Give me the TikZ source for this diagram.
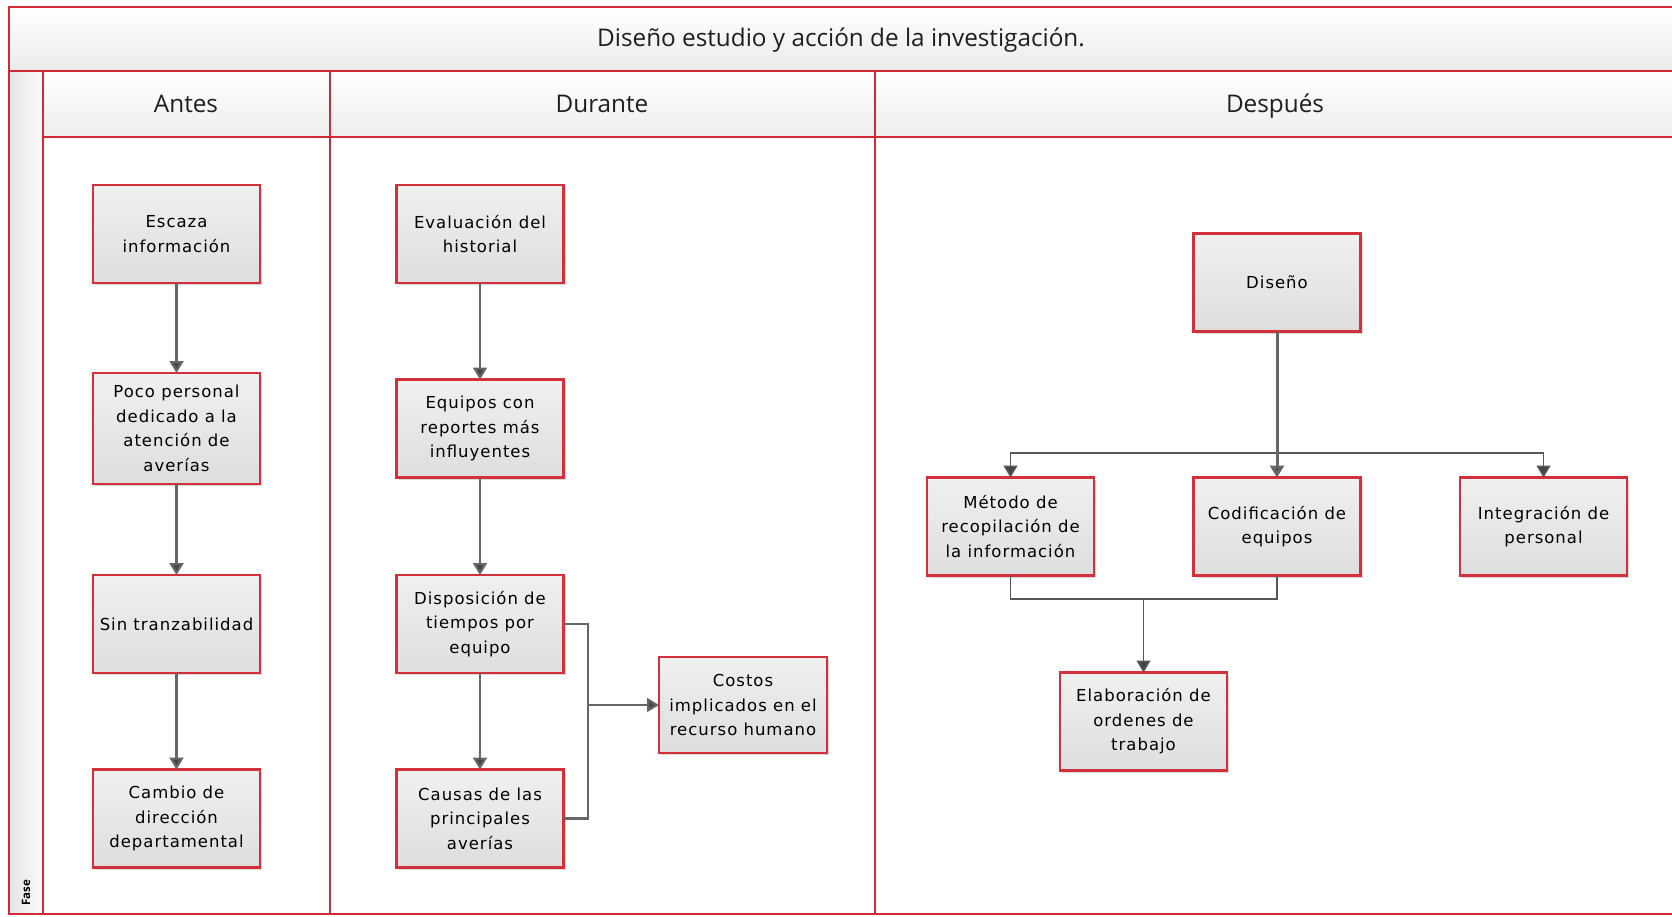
\documentclass[tikz,border=0pt]{standalone}
\usepackage{fontspec}
\setmainfont{Open Sans}
\newfontfamily\boxfont[LetterSpace=6]{DejaVu Sans}
\usetikzlibrary{arrows.meta,shadows}

\definecolor{framered}{HTML}{D22A34}
\definecolor{boxred}{HTML}{D3303B}
\definecolor{linegray}{HTML}{666666}
\definecolor{tipgray}{HTML}{454545}

\tikzset{
  frameline/.style={draw=framered, line width=1.8pt},
  stepbox/.style={draw=boxred, line width=2.1pt, top color=white!94!black,
    bottom color=white!87!black, minimum width=167pt, minimum height=98pt,
    inner sep=0pt, outer sep=0pt, align=center,
    font=\boxfont\fontsize{16.5}{24.5}\selectfont,
    drop shadow={shadow xshift=2pt, shadow yshift=-2pt, opacity=0.15, fill=black}},
  conn/.style={draw=linegray, line width=2.2pt},
  arr/.style={conn, -{Triangle[width=14pt,length=12pt,fill=tipgray]}},
  thinconn/.style={draw=linegray!85!black, line width=1.6pt},
  thinarr/.style={thinconn, -{Triangle[width=14pt,length=12pt,fill=tipgray]}},
  headtext/.style={anchor=base, font=\fontsize{24.3}{28}\selectfont, text=black!88}
}

\begin{document}
\begin{tikzpicture}[x=1pt, y=-1pt]
\useasboundingbox (0,0) rectangle (1672,916);

% title band, phase header row and the vertical label strip
\shade[top color=white, bottom color=white!92!black] (9,7) rectangle (1674,71);
\shade[top color=white, bottom color=white!93!black] (43,71) rectangle (1674,137);
\shade[left color=white!90!black, right color=white!98!black] (9,71) rectangle (43,914);

% frame and lane grid
\draw[frameline] (9,7) rectangle (1674,914);
\draw[frameline] (9,71) -- (1674,71);
\draw[frameline] (43,137) -- (1674,137);
\draw[frameline] (43,71) -- (43,914);
\draw[frameline] (330,71) -- (330,914);
\draw[frameline] (875,71) -- (875,914);

% headings
\node[headtext] (title) at (841,46) {Diseño estudio y acción de la investigación.};
\node[headtext] (hantes) at (186,112) {Antes};
\node[headtext] (hdurante) at (602,112) {Durante};
\node[headtext] (hdespues) at (1275,112) {Después};
\node[rotate=90, font=\bfseries\fontsize{11.5}{11.5}\selectfont] (fase) at (26,893) {Fase};

% Antes
\node[stepbox] (escaza) at (176.5,234) {Escaza\\información};
\node[stepbox, minimum height=111pt] (poco) at (176.5,428.5) {Poco personal\\dedicado a la\\atención de\\averías};
\node[stepbox] (sin) at (176.5,624) {Sin tranzabilidad};
\node[stepbox] (cambio) at (176.5,818.5) {Cambio de\\dirección\\departamental};

% Durante
\node[stepbox] (eval) at (480,234) {Evaluación del\\historial};
\node[stepbox] (equipos) at (480,428.5) {Equipos con\\reportes más\\influyentes};
\node[stepbox] (dispo) at (480,624) {Disposición de\\tiempos por\\equipo};
\node[stepbox] (causas) at (480,818.5) {Causas de las\\principales\\averías};
\node[stepbox, minimum width=168pt, minimum height=96pt] (costos) at (743,705) {Costos\\implicados en el\\recurso humano};

% Después
\node[stepbox] (diseno) at (1277,282.5) {Diseño};
\node[stepbox] (metodo) at (1010.5,526.5) {Método de\\recopilación de\\la información};
\node[stepbox] (codif) at (1277,526.5) {Codificación de\\equipos};
\node[stepbox] (integ) at (1543.5,526.5) {Integración de\\personal};
\node[stepbox] (elab) at (1143.5,721.5) {Elaboración de\\ordenes de\\trabajo};

% connectors: Antes
\draw[arr] (escaza) -- (poco);
\draw[arr] (poco) -- (sin);
\draw[arr] (sin) -- (cambio);

% connectors: Durante
\draw[arr] (eval) -- (equipos);
\draw[arr] (equipos) -- (dispo);
\draw[arr] (dispo) -- (causas);
\coordinate (join1) at (588,705);
\draw[conn] (dispo.east) -| (join1) |- (causas.east);
\draw[arr] (join1) -- (costos.west);

% connectors: Después
\coordinate (split) at (1277,453);
\draw[thinarr] (split) -| (metodo.north);
\draw[thinarr] (split) -| (integ.north);
\draw[arr, line width=3pt] (diseno.south) -- (codif.north);
\coordinate (join2) at (1143.5,599);
\draw[thinconn] (metodo.south) |- (join2) -| (codif.south);
\draw[thinarr] (join2) -- (elab.north);
\end{tikzpicture}
\end{document}
